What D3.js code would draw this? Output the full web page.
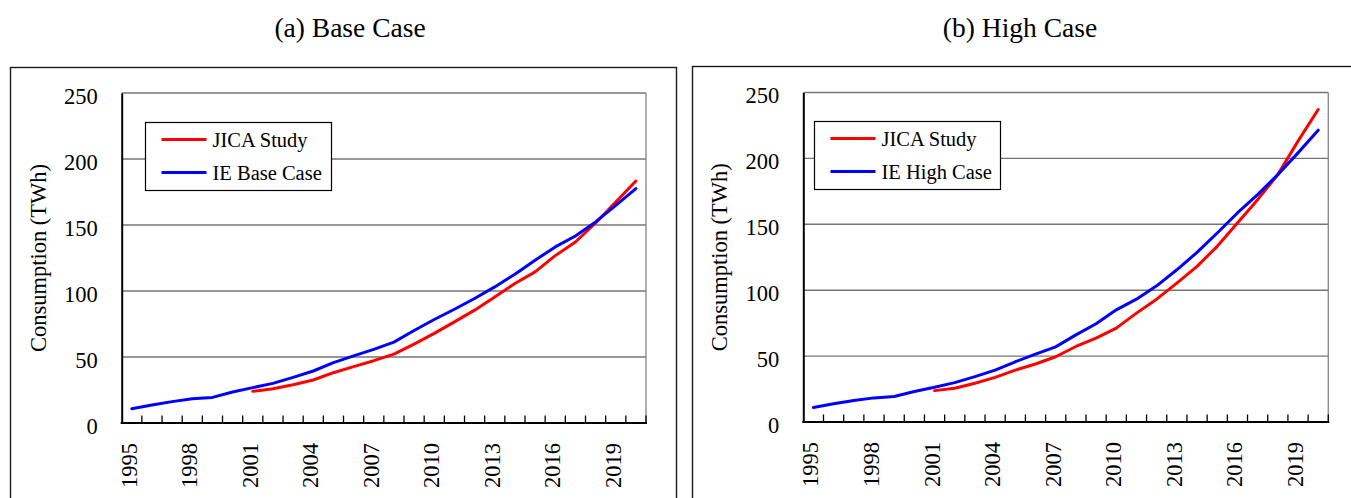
<!DOCTYPE html>
<html>
<head>
<meta charset="utf-8">
<script src="https://cdn.jsdelivr.net/npm/d3@7"></script>
<style>
  html, body { margin: 0; padding: 0; background: #fff; }
  svg { display: block; font-family: "Liberation Serif", "Times New Roman", serif; }
</style>
</head>
<body>
<svg id="chart" width="1351" height="498"></svg>
<script>
// Years on the category axis (1995 .. 2020)
const years = [1995,1996,1997,1998,1999,2000,2001,2002,2003,2004,2005,2006,2007,
               2008,2009,2010,2011,2012,2013,2014,2015,2016,2017,2018,2019,2020];
const yearLabels = [1995,1998,2001,2004,2007,2010,2013,2016,2019];
const valueTicks = [0,50,100,150,200,250];

// Electricity consumption, TWh. JICA Study starts in 2001.
const baseJica = [null,null,null,null,null,null,24.0,26.0,29.0,32.6,38.1,42.7,47.2,
                  52.2,59.8,67.9,76.6,85.5,95.5,105.7,114.5,126.8,137.1,151.5,167.4,183.3];
const baseIE   = [10.8,13.6,16.2,18.4,19.4,23.5,26.8,30.0,34.6,39.4,45.7,50.8,55.8,
                  61.3,70.1,78.4,86.2,94.3,103.1,112.7,123.3,133.4,141.7,152.3,164.9,177.5];
const highJica = [null,null,null,null,null,null,23.8,25.6,29.4,33.9,39.4,44.0,49.5,
                  57.3,63.6,71.2,82.6,93.2,105.4,118.1,133.3,151.0,168.7,187.7,213.1,237.1];
const highIE   = [11.0,13.8,16.3,18.3,19.3,23.1,26.4,29.9,34.4,39.4,45.7,51.5,57.0,
                  66.1,74.5,85.1,93.2,103.3,115.5,128.7,143.4,158.6,172.5,187.7,204.2,221.4];

const panels = [
  { title: "(a) Base Case", titleX: 350, frame: [10.5, 67.5, 666, 480],
    plot: { left: 121.7, right: 646, top: 93, bottom: 423 },
    legend: { x: 145.5, y: 122.5, w: 186, h: 68 },
    series: [ { name: "JICA Study", color: "#ff0000", values: baseJica },
              { name: "IE Base Case", color: "#0000ff", values: baseIE } ] },
  { title: "(b) High Case", titleX: 1020, frame: [692.5, 66.5, 700, 480],
    plot: { left: 803.3, right: 1328.3, top: 92.5, bottom: 422 },
    legend: { x: 814.5, y: 121.5, w: 186, h: 68 },
    series: [ { name: "JICA Study", color: "#ff0000", values: highJica },
              { name: "IE High Case", color: "#0000ff", values: highIE } ] }
];

const svg = d3.select("#chart");

panels.forEach(p => {
  const g = svg.append("g");

  // panel title
  g.append("text")
    .attr("x", p.titleX).attr("y", 37)
    .attr("text-anchor", "middle")
    .attr("font-size", 27.5)
    .attr("fill", "#000")
    .text(p.title);

  // outer frame
  g.append("rect")
    .attr("x", p.frame[0]).attr("y", p.frame[1])
    .attr("width", p.frame[2]).attr("height", p.frame[3])
    .attr("fill", "none").attr("stroke", "#1a1a1a").attr("stroke-width", 1.4);

  const x = d3.scaleBand().domain(years).range([p.plot.left, p.plot.right]).paddingInner(0).paddingOuter(0);
  const y = d3.scaleLinear().domain([0, 250]).range([p.plot.bottom, p.plot.top]);

  // horizontal gridlines
  g.append("g").selectAll("line")
    .data(valueTicks.filter(v => v > 0))
    .join("line")
    .attr("x1", p.plot.left).attr("x2", p.plot.right)
    .attr("y1", d => y(d)).attr("y2", d => y(d))
    .attr("stroke", "#747474").attr("stroke-width", 1.4);

  // right border of the plot area
  g.append("line")
    .attr("x1", p.plot.right).attr("x2", p.plot.right)
    .attr("y1", p.plot.top).attr("y2", p.plot.bottom)
    .attr("stroke", "#8c8c8c").attr("stroke-width", 1.4);

  // value axis
  const yAxis = d3.axisLeft(y).tickValues(valueTicks).tickSize(0).tickPadding(24);
  const ya = g.append("g").attr("transform", `translate(${p.plot.left},0)`).call(yAxis);
  ya.select(".domain").attr("stroke", "#000").attr("stroke-width", 2);
  ya.selectAll("text")
    .attr("font-family", "Liberation Serif, Times New Roman, serif")
    .attr("font-size", 22.5).attr("fill", "#000").attr("dy", "0.45em");

  // category axis with ticks on band boundaries, pointing into the plot
  const bounds = years.map(yr => x(yr) + x.bandwidth());
  g.append("g").selectAll("line")
    .data(bounds)
    .join("line")
    .attr("x1", d => d).attr("x2", d => d)
    .attr("y1", p.plot.bottom).attr("y2", p.plot.bottom - 7.5)
    .attr("stroke", "#000").attr("stroke-width", 1.3);
  g.append("line")
    .attr("x1", p.plot.left - 1).attr("x2", p.plot.right + 1)
    .attr("y1", p.plot.bottom).attr("y2", p.plot.bottom)
    .attr("stroke", "#000").attr("stroke-width", 2);

  g.append("g").selectAll("text")
    .data(yearLabels)
    .join("text")
    .attr("transform", d => `translate(${x(d) + x.bandwidth() / 2},${p.plot.bottom + 20}) rotate(-90)`)
    .attr("text-anchor", "end")
    .attr("dy", "0.22em")
    .attr("font-size", 22.5)
    .attr("fill", "#000")
    .text(d => d);

  // value axis title
  g.append("text")
    .attr("transform", `translate(${p.plot.left - 84},${(p.plot.top + p.plot.bottom) / 2}) rotate(-90)`)
    .attr("text-anchor", "middle")
    .attr("dy", "0.35em")
    .attr("font-size", 22.5)
    .attr("fill", "#000")
    .text("Consumption (TWh)");

  // series lines
  const line = d3.line()
    .defined(d => d.v != null)
    .x(d => x(d.year) + x.bandwidth() / 2)
    .y(d => y(d.v));
  p.series.forEach(s => {
    g.append("path")
      .datum(years.map((yr, i) => ({ year: yr, v: s.values[i] })))
      .attr("d", line)
      .attr("fill", "none")
      .attr("stroke", s.color)
      .attr("stroke-width", 3)
      .attr("stroke-linejoin", "round")
      .attr("stroke-linecap", "round");
  });

  // legend
  const lg = g.append("g").attr("transform", `translate(${p.legend.x},${p.legend.y})`);
  lg.append("rect")
    .attr("width", p.legend.w).attr("height", p.legend.h)
    .attr("fill", "#fff").attr("stroke", "#000").attr("stroke-width", 1.2);
  p.series.forEach((s, i) => {
    const cy = 17 + i * 33;
    lg.append("line")
      .attr("x1", 16).attr("x2", 61)
      .attr("y1", cy).attr("y2", cy)
      .attr("stroke", s.color).attr("stroke-width", 3);
    lg.append("text")
      .attr("x", 67).attr("y", cy)
      .attr("dy", "0.35em")
      .attr("font-size", 20.5)
      .attr("fill", "#000")
      .text(s.name);
  });
});
</script>
</body>
</html>
